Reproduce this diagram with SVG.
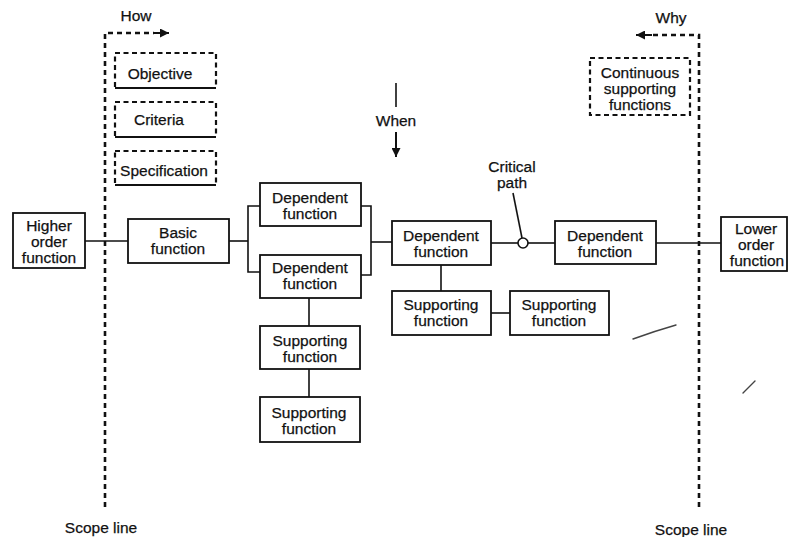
<svg xmlns="http://www.w3.org/2000/svg" width="788" height="537" viewBox="0 0 788 537">
  <style>
    text { font-family: "Liberation Sans", Arial, sans-serif; font-size: 15.5px; fill: #111; stroke: #111; stroke-width: 0.25; text-anchor: middle; }
    .box { fill: #fff; stroke: #111; stroke-width: 1.8; }
    .dbox { fill: none; stroke: #111; stroke-width: 2.2; stroke-dasharray: 5 3.5; }
    .solid { fill: none; stroke: #111; stroke-width: 1.8; }
    .link { fill: none; stroke: #111; stroke-width: 1.6; }
    .scope { fill: none; stroke: #111; stroke-width: 2.6; stroke-dasharray: 5 4; }
    .mark { fill: none; stroke: #444; stroke-width: 1.4; stroke-linecap: round; }
  </style>
  <defs>
    <marker id="headBig" viewBox="0 0 10 10" refX="10" refY="5" markerWidth="16" markerHeight="9" markerUnits="userSpaceOnUse" orient="auto">
      <path d="M0,0 L10,5 L0,10 z" fill="#111"/>
    </marker>
  </defs>

  <rect width="788" height="537" fill="#fff"/>

  <!-- connectors -->
  <g id="connectors">
    <!-- scope lines with How / Why arrows -->
    <path class="scope" d="M105,507 V33 H154"/>
    <line x1="153" y1="33" x2="169" y2="33" stroke="#111" stroke-width="2" marker-end="url(#headBig)"/>
    <path class="scope" d="M699,507 V35 H652"/>
    <line x1="652" y1="35" x2="636" y2="35" stroke="#111" stroke-width="2" marker-end="url(#headBig)"/>
    <!-- When arrow -->
    <line class="link" x1="396" y1="83" x2="396" y2="107" stroke-width="2"/>
    <line x1="396" y1="132" x2="396" y2="157" stroke="#111" stroke-width="2" marker-end="url(#headBig)"/>
    <!-- main chain -->
    <line class="link" x1="85" y1="241" x2="128" y2="241"/>
    <line class="link" x1="229" y1="241" x2="248" y2="241"/>
    <path class="link" d="M260,206 H248 V272 H260"/>
    <path class="link" d="M361,206 H371 V275 H361"/>
    <line class="link" x1="371" y1="242" x2="392" y2="242"/>
    <line class="link" x1="491" y1="243" x2="518" y2="243"/>
    <circle class="link" cx="523" cy="243" r="5"/>
    <line class="link" x1="528" y1="243" x2="555" y2="243"/>
    <line class="link" x1="656" y1="243" x2="721" y2="243"/>
    <line class="link" x1="513" y1="193" x2="522" y2="238"/>
    <!-- supporting branches -->
    <line class="link" x1="309" y1="298" x2="309" y2="326"/>
    <line class="link" x1="309" y1="369" x2="309" y2="397"/>
    <line class="link" x1="441" y1="265" x2="441" y2="291"/>
    <line class="link" x1="491" y1="313" x2="510" y2="313"/>
  </g>

  <!-- how-side dashed items -->
  <g id="objective">
    <rect class="dbox" x="115" y="53" width="101" height="35"/>
    <line class="solid" x1="115" y1="88" x2="216" y2="88"/>
    <text x="160" y="79">Objective</text>
  </g>
  <g id="criteria">
    <rect class="dbox" x="115" y="102" width="101" height="35"/>
    <line class="solid" x1="115" y1="137" x2="216" y2="137"/>
    <text x="159" y="125">Criteria</text>
  </g>
  <g id="specification">
    <rect class="dbox" x="115" y="151" width="101" height="34"/>
    <line class="solid" x1="115" y1="185" x2="216" y2="185"/>
    <text x="164" y="176">Specification</text>
  </g>
  <g id="continuous">
    <rect class="dbox" x="590" y="58" width="100" height="57"/>
    <text x="640" y="78">Continuous</text>
    <text x="640" y="94">supporting</text>
    <text x="640" y="110">functions</text>
  </g>

  <!-- labels -->
  <g id="labels">
    <text x="136" y="21">How</text>
    <text x="671" y="23">Why</text>
    <text x="396" y="126">When</text>
    <text x="512" y="172">Critical</text>
    <text x="512" y="188">path</text>
    <text x="101" y="533">Scope line</text>
    <text x="691" y="535">Scope line</text>
  </g>

  <!-- function boxes -->
  <g id="higher">
    <rect class="box" x="13" y="213" width="72" height="55"/>
    <text x="49" y="231">Higher</text>
    <text x="49" y="247">order</text>
    <text x="49" y="263">function</text>
  </g>
  <g id="basic">
    <rect class="box" x="128" y="219" width="101" height="44"/>
    <text x="178" y="238">Basic</text>
    <text x="178" y="254">function</text>
  </g>
  <g id="dependent1">
    <rect class="box" x="260" y="183" width="101" height="43"/>
    <text x="310" y="203">Dependent</text>
    <text x="310" y="219">function</text>
  </g>
  <g id="dependent2">
    <rect class="box" x="260" y="255" width="101" height="43"/>
    <text x="310" y="273">Dependent</text>
    <text x="310" y="289">function</text>
  </g>
  <g id="dependent3">
    <rect class="box" x="392" y="221" width="99" height="44"/>
    <text x="441" y="241">Dependent</text>
    <text x="441" y="257">function</text>
  </g>
  <g id="dependent4">
    <rect class="box" x="555" y="221" width="101" height="43"/>
    <text x="605" y="241">Dependent</text>
    <text x="605" y="257">function</text>
  </g>
  <g id="lower">
    <rect class="box" x="721" y="217" width="66" height="54"/>
    <text x="756" y="234">Lower</text>
    <text x="756" y="250">order</text>
    <text x="757" y="266">function</text>
  </g>
  <g id="supporting1">
    <rect class="box" x="260" y="326" width="100" height="43"/>
    <text x="310" y="346">Supporting</text>
    <text x="310" y="362">function</text>
  </g>
  <g id="supporting2">
    <rect class="box" x="260" y="397" width="100" height="45"/>
    <text x="309" y="418">Supporting</text>
    <text x="309" y="434">function</text>
  </g>
  <g id="supporting3">
    <rect class="box" x="392" y="291" width="99" height="44"/>
    <text x="441" y="310">Supporting</text>
    <text x="441" y="326">function</text>
  </g>
  <g id="supporting4">
    <rect class="box" x="510" y="291" width="99" height="44"/>
    <text x="559" y="310">Supporting</text>
    <text x="559" y="326">function</text>
  </g>

  <!-- loose pen strokes -->
  <path class="mark" d="M633,339 Q655,331 676,325"/>
  <path class="mark" d="M743,393 L755,381"/>
</svg>
